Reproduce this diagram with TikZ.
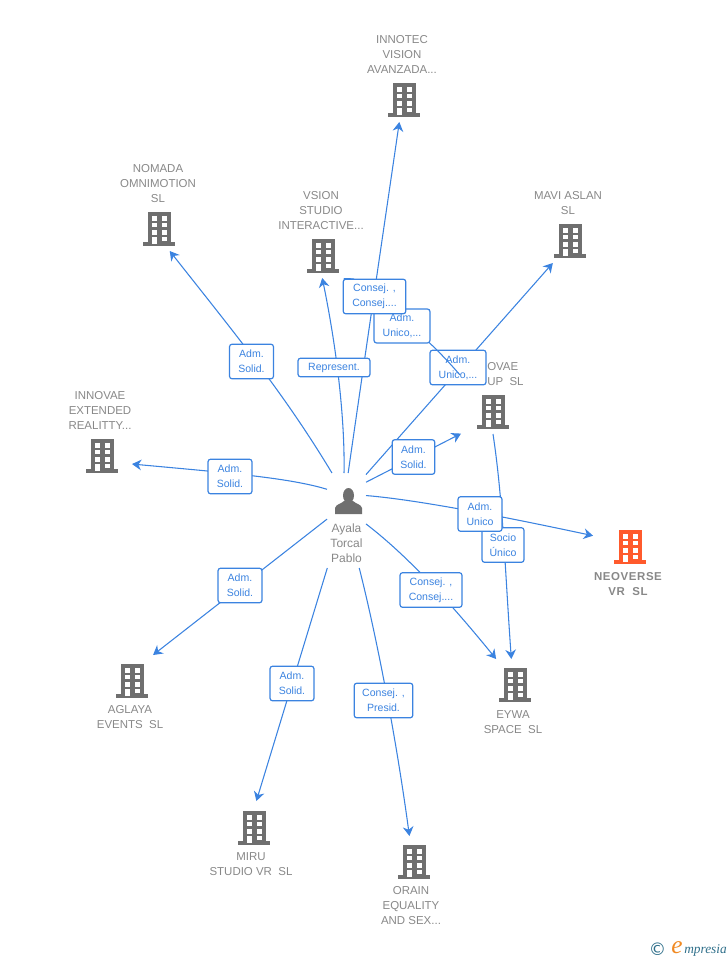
\documentclass[tikz,border=0pt]{standalone}
\usepackage{fontspec}
\setmainfont{Liberation Sans}
\newfontfamily\serifit{Liberation Serif}
\newfontfamily\symfont{DejaVu Sans}
\usetikzlibrary{arrows.meta}

\definecolor{linkblue}{HTML}{3B83E0}
\definecolor{firmgray}{HTML}{6F6F6F}
\definecolor{namegray}{HTML}{888888}
\definecolor{firmred}{HTML}{FF5A2C}
\definecolor{logoteal}{HTML}{2F6F8A}
\definecolor{logoorange}{HTML}{F08A24}

\tikzset{
  link/.style={draw=linkblue,line width=0.8pt,-{Stealth[length=7pt,width=8pt]}},
  role/.style={draw=linkblue,line width=0.9pt,fill=white,rounded corners=2pt,inner sep=0pt,
    text=linkblue,align=center,font=\fontsize{7.9}{11.25}\selectfont},
  firm/.style={inner sep=0pt,outer sep=0pt,minimum width=33pt,minimum height=33pt},
  firmname/.style={text=namegray,align=center,inner sep=0pt,font=\fontsize{8.6}{11.25}\selectfont},
  building/.pic={
    \fill[#1] (-11.5,-17) rectangle (11.5,13);
    \fill[#1] (-16,13) rectangle (16,17);
    \foreach \wy in {-13,-6.5,1} {
      \fill[white] (-7.5,\wy) rectangle (-2.5,\wy+4.5);
      \fill[white] (2.5,\wy) rectangle (7.5,\wy+4.5);
    }
    \fill[white] (2.5,8) rectangle (7.5,12);
    \fill[white] (-7.5,8) rectangle (-2.5,15);
  }
}

\begin{document}
\begin{tikzpicture}[x=0.75pt,y=-0.75pt]
\useasboundingbox (0,0) rectangle (728,960);

% companies
\node[firm] (innotec) at (404,100) {};
\node[firm] (nomada) at (159,229) {};
\node[firm] (vsion) at (323,256) {};
\node[firm] (mavi) at (570,241) {};
\node[firm,minimum width=48pt] (novae) at (493,412) {};
\node[firm,minimum width=45pt] (extended) at (102,456) {};
\node[firm,minimum width=55.5pt] (neoverse) at (630,547) {};
\node[firm,minimum height=39pt] (aglaya) at (132,681) {};
\node[firm,minimum height=39pt] (eywa) at (515,685) {};
\node[firm,minimum height=40.5pt] (miru) at (254,828) {};
\node[firm,minimum height=39pt] (orain) at (414,862) {};
\node[inner sep=0pt,outer sep=0pt,minimum width=29.25pt,minimum height=71.25pt] (ayala) at (346.5,520.5) {};
\coordinate (novaefree) at (460,375);

\foreach \fx/\fy in {404/100,159/229,323/256,570/241,493/412,102/456,132/681,515/685,254/828,414/862}
  \pic at (\fx,\fy) {building=firmgray};
\pic at (630,547) {building=firmred};

% person
\fill[firmgray] (348.5,495.5) ellipse [x radius=5.5,y radius=7.5];
\fill[firmgray] (335,514) -- (335,508) .. controls (336,504) and (341,504) .. (344,501)
  -- (353,501) .. controls (356,504) and (361,504) .. (362,508) -- (362,514) -- cycle;
\node[firmname,font=\fontsize{9}{11.25}\selectfont] (ayalaname) at (346.5,543.5) {Ayala\\Torcal\\Pablo};

% names
\node[firmname] (innotecname) at (402,54) {INNOTEC\\VISION\\AVANZADA...};
\node[firmname] (nomadaname) at (158,184) {NOMADA\\OMNIMOTION\\SL};
\node[firmname] (vsionname) at (321,211) {VSION\\STUDIO\\INTERACTIVE...};
\node[firmname] (maviname) at (568,203) {MAVI ASLAN\\SL};
\node[firmname,anchor=west] (novaename) at (487,367) {OVAE};
\node[firmname,anchor=west] (novaename2) at (487,382) {UP\ \ SL};
\node[firmname] (extendedname) at (100,410) {INNOVAE\\EXTENDED\\REALITTY...};
\node[firmname,font=\fontsize{8.6}{11.25}\selectfont\bfseries\addfontfeature{LetterSpace=5}] (neoversename) at (628,584) {NEOVERSE\\VR\ \ SL};
\node[firmname] (aglayaname) at (130,717) {AGLAYA\\EVENTS\ \ SL};
\node[firmname] (eywaname) at (513,722) {EYWA\\SPACE\ \ SL};
\node[firmname] (miruname) at (251,864) {MIRU\\STUDIO VR\ \ SL};
\node[firmname] (orainname) at (411,906) {ORAIN\\EQUALITY\\AND SEX...};

% links
\draw[link] (ayala.107) .. controls (285,395) and (240,340) .. (nomada.-64.5);
\draw[link] (ayala.93) .. controls (345,420) and (337,350) .. (vsion.-92.6);
\draw[link] (ayala.88) .. controls (360,390) and (385,220) .. (innotec.-102.3);
\draw[link] (ayala.67.7) -- (mavi.-128);
\draw[link] (ayala.63) -- (novae.-146.7);
\draw[link] (ayala.52.6) .. controls (420,500) and (510,518) .. (neoverse.163.4);
\draw[link] (ayala.-10) .. controls (400,550) and (440,590) .. (eywa.126.2);
\draw[link] (ayala.-75) .. controls (375,630) and (395,730) .. (orain.100.9);
\draw[link] (ayala.-112) -- (miru.85.8);
\draw[link] (ayala.176) -- (aglaya.51);
\draw[link] (ayala.122.6) .. controls (290,478) and (230,473) .. (extended.-15);
\draw[link] (novae.south) .. controls (503,500) and (505,570) .. (eywa.98.7);

% roles
\node[role,minimum width=33pt,minimum height=26pt] (r1) at (251.5,361.5) {Adm.\\Solid.};
\node[role,minimum width=54pt,minimum height=14pt] (r2) at (334,367.5) {Represent.};
\node[role,minimum width=42pt,minimum height=26pt] (r3) at (458,367.5) {Adm.\\Unico,...};
\draw[link] (novaefree) .. controls (430,340) and (395,310) .. (vsion.-47);
\node[role,minimum width=42pt,minimum height=25.5pt] (r4) at (402,326) {Adm.\\Unico,...};
\node[role,minimum width=47pt,minimum height=26pt] (r5) at (374.5,296.5) {Consej. ,\\Consej....};
\node[role,minimum width=32pt,minimum height=26pt] (r6) at (413.5,457) {Adm.\\Solid.};
\node[role,minimum width=31.5pt,minimum height=26pt] (r7) at (503,545) {Socio\\Único};
\node[role,minimum width=33pt,minimum height=26pt] (r8) at (480,514) {Adm.\\Unico};
\node[role,minimum width=46.5pt,minimum height=26pt] (r9) at (431,590) {Consej. ,\\Consej....};
\node[role,minimum width=33pt,minimum height=26pt] (r10) at (230,476.5) {Adm.\\Solid.};
\node[role,minimum width=33pt,minimum height=26pt] (r11) at (240,585.5) {Adm.\\Solid.};
\node[role,minimum width=33pt,minimum height=26pt] (r12) at (292,683.5) {Adm.\\Solid.};
\node[role,minimum width=44pt,minimum height=26pt] (r13) at (383.5,700.5) {Consej. ,\\Presid.};

% logo
\node[inner sep=0pt,text=logoteal,font=\symfont\fontsize{13}{13}\selectfont] (logoc) at (657.5,949) {©};
\node[inner sep=0pt,text=logoorange,font=\serifit\itshape\fontsize{19}{19}\selectfont] (logoe) at (677,947.5) {e};
\node[inner sep=0pt,anchor=west,text=logoteal,font=\serifit\itshape\fontsize{10}{11}\selectfont] (logotxt) at (684,950) {mpresia};
\end{tikzpicture}
\end{document}
